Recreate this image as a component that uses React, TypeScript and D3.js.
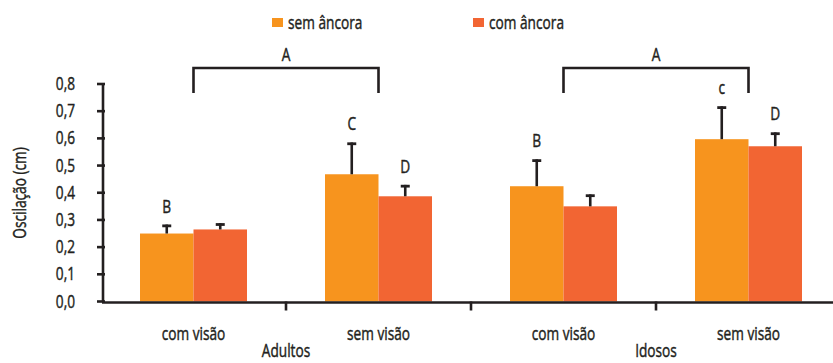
import React from "react";
import * as d3 from "d3";

const categories = ["com visão", "sem visão", "com visão", "sem visão"];
const groups = ["Adultos", "Idosos"];
const seriesNames = ["sem âncora", "com âncora"];
const semAncora = [0.25, 0.468, 0.424, 0.597];
const semAncoraErr = [0.033, 0.117, 0.099, 0.121];
const comAncora = [0.265, 0.387, 0.35, 0.571];
const comAncoraErr = [0.023, 0.042, 0.044, 0.051];
const semLetters = ["B", "C", "B", "c"];
const comLetters = ["", "D", "", "D"];
const bracketLabels = ["A", "A"];
const yTicks = [0, 0.1, 0.2, 0.3, 0.4, 0.5, 0.6, 0.7, 0.8];

const COLORS = ["#F7941E", "#F26533"];
const INK = "#231f20";
const FONT = "'Open Sans', 'Noto Sans', sans-serif";
const SX = 0.74;

function T(props: { x: number; y: number; anchor?: string; size?: number; rotate?: number; children: React.ReactNode }) {
  const { x, y, anchor = "start", size = 18.5, rotate = 0, children } = props;
  return (
    <text
      transform={`translate(${x},${y}) rotate(${rotate}) scale(${SX},1)`}
      textAnchor={anchor}
      fontSize={size}
      fill={INK}
      stroke={INK}
      strokeWidth={0.45}
    >
      {children}
    </text>
  );
}

export default function App() {
  const W = 833, H = 363;
  const axisX = 103;
  const y = d3.scaleLinear().domain([0, 0.8]).range([301.5, 84]);
  const x = d3.scaleBand<number>().domain(d3.range(categories.length)).range([101, 841]).padding(0);
  const barW = 53.5;
  const inner = d3.scaleBand<number>().domain([0, 1]).range([x.bandwidth() / 2 - barW, x.bandwidth() / 2 + barW]).padding(0);
  const series = [
    { vals: semAncora, errs: semAncoraErr, letters: semLetters },
    { vals: comAncora, errs: comAncoraErr, letters: comLetters },
  ];
  const fmt = (v: number) => v.toFixed(1).replace(".", ",");
  const lw = 2.6;
  const center = (i: number) => (x(i) as number) + x.bandwidth() / 2;
  const bracketTop = 68, bracketBottom = 93;

  return (
    <svg width={W} height={H} style={{ position: "absolute", left: 0, top: 0 }} fontFamily={FONT}>
      {/* legend */}
      {seriesNames.map((n, i) => (
        <g key={n} transform={`translate(${i === 0 ? 272 : 473},18)`}>
          <rect width={11} height={9} fill={COLORS[i]} />
          <T x={16} y={11}>{n}</T>
        </g>
      ))}
      {/* bars */}
      {series.map((s, si) =>
        s.vals.map((v, ci) => {
          const bx = (x(ci) as number) + (inner(si) as number);
          const cx = bx + barW / 2;
          const top = y(v);
          const et = y(v + s.errs[ci]);
          return (
            <g key={`${si}-${ci}`}>
              <rect x={bx} y={top} width={barW} height={y(0) - top} fill={COLORS[si]} />
              <line x1={cx} x2={cx} y1={top} y2={et} stroke={INK} strokeWidth={2.6} />
              <line x1={cx - 4.5} x2={cx + 4.5} y1={et + 1.3} y2={et + 1.3} stroke={INK} strokeWidth={2.8} />
              {s.letters[ci] && (
                <T x={cx} y={et - 12} anchor="middle">{s.letters[ci]}</T>
              )}
            </g>
          );
        })
      )}
      {/* brackets */}
      {groups.map((g, gi) => {
        const x1 = center(gi * 2), x2 = center(gi * 2 + 1);
        return (
          <g key={g}>
            <path d={`M${x1},${bracketBottom}V${bracketTop}H${x2}V${bracketBottom}`} fill="none" stroke={INK} strokeWidth={lw} />
            <T x={(x1 + x2) / 2} y={61} anchor="middle">{bracketLabels[gi]}</T>
          </g>
        );
      })}
      {/* y axis */}
      <line x1={axisX} x2={axisX} y1={y(0.8)} y2={y(0)} stroke={INK} strokeWidth={lw} />
      {yTicks.map((t) => (
        <g key={t}>
          <line x1={axisX - 6} x2={axisX + 2} y1={y(t)} y2={y(t)} stroke={INK} strokeWidth={lw} />
          <T x={75} y={y(t) + 6} anchor="end">{fmt(t)}</T>
        </g>
      ))}
      <T x={26} y={193} anchor="middle" rotate={-90}>Oscilação (cm)</T>
      {/* x axis */}
      <line x1={axisX - 1} x2={W} y1={y(0) + 1} y2={y(0) + 1} stroke={INK} strokeWidth={lw} />
      {categories.slice(1).map((_, i) => {
        const tx = x(i + 1) as number;
        return <line key={i} x1={tx} x2={tx} y1={y(0)} y2={y(0) + 9} stroke={INK} strokeWidth={lw} />;
      })}
      {categories.map((c, i) => (
        <T key={i} x={center(i)} y={340} anchor="middle">{c}</T>
      ))}
      {groups.map((g, gi) => (
        <T key={g} x={x(gi * 2 + 1) as number} y={357} anchor="middle">{g}</T>
      ))}
    </svg>
  );
}
